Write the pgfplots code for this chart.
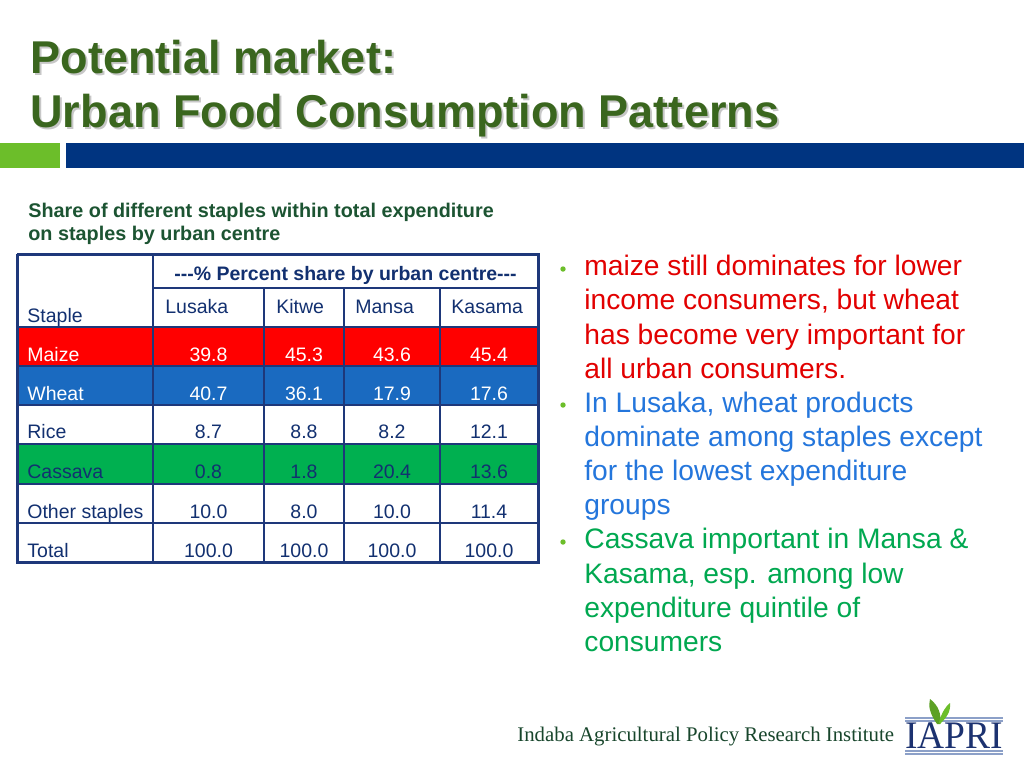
\documentclass[border=0pt]{standalone}
\usepackage{pgfplots}
\pgfplotsset{compat=1.18}
\usepackage{pgfplotstable}
\usepackage{fontspec}
\setmainfont{Liberation Sans}
\newfontfamily\serif{Liberation Serif}

\definecolor{titlegreen}{RGB}{58,102,30}
\definecolor{subgreen}{RGB}{28,84,50}
\definecolor{barblue}{RGB}{0,52,128}
\definecolor{squaregreen}{RGB}{108,190,42}
\definecolor{tabnavy}{RGB}{18,48,112}
\definecolor{tabline}{RGB}{30,56,122}
\definecolor{rowred}{RGB}{255,0,0}
\definecolor{rowblue}{RGB}{26,106,192}
\definecolor{rowgreen}{RGB}{0,176,80}
\definecolor{bred}{RGB}{226,0,0}
\definecolor{bblue}{RGB}{36,118,220}
\definecolor{bgreen}{RGB}{0,168,80}
\definecolor{footgreen}{RGB}{24,70,44}
\definecolor{logonavy}{RGB}{28,50,112}
\definecolor{logoline}{RGB}{140,160,200}

\tikzset{bl/.style={anchor=base west, inner sep=0pt, font=\fontsize{14.1}{17}\selectfont},
         dot/.style={circle, fill=squaregreen, inner sep=0pt, minimum size=2.7pt}}

% table cells: pixel position of text baseline, text
\pgfplotstableread[col sep=comma]{
x,y,label
208.5,361,39.8
304,361,45.3
392,361,43.6
489,361,45.4
208.5,400,40.7
304,400,36.1
392,400,17.9
489,400,17.6
}\whitecells

\pgfplotstableread[col sep=comma]{
x,y,label
208.5,438,8.7
304,438,8.8
392,438,8.2
489,438,12.1
208.5,478,0.8
304,478,1.8
392,478,20.4
489,478,13.6
208.5,518,10.0
304,518,8.0
392,518,10.0
489,518,11.4
208.5,557,100.0
304,557,100.0
392,557,100.0
489,557,100.0
}\navycells

\pgfplotstableread[col sep=comma]{
x,y,label
27,361,Maize
27,400,Wheat
}\whitenames

\pgfplotstableread[col sep=comma]{
x,y,label
27,322,Staple
165,313,Lusaka
276,313,Kitwe
355,313,Mansa
451,313,Kasama
27,438,Rice
27,478,Cassava
27,518,Other staples
27,557,Total
}\navynames

\begin{document}
\begin{tikzpicture}
\begin{axis}[
    x=0.5pt, y=0.5pt,
    xmin=0, xmax=1024, ymin=0, ymax=768,
    y dir=reverse,
    hide axis, clip=false,
    scale only axis,
]
% slide background
\addplot[fill=white, draw=none] coordinates {(0,0) (1024,0) (1024,768) (0,768)};
% header bars
\addplot[fill=squaregreen, draw=none] coordinates {(0,143) (60,143) (60,168) (0,168)};
\addplot[fill=barblue, draw=none] coordinates {(66,143) (1024,143) (1024,168) (66,168)};

% coloured rows
\addplot[fill=rowred, draw=none] coordinates {(17,327) (538,327) (538,366) (17,366)};
\addplot[fill=rowblue, draw=none] coordinates {(17,366) (538,366) (538,405) (17,405)};
\addplot[fill=rowgreen, draw=none] coordinates {(17,444) (538,444) (538,484) (17,484)};

% grid lines
\pgfplotsset{cell/.style={tabline, line width=0.75pt, mark=none}}
\addplot[cell] coordinates {(153,254) (153,562)};
\addplot[cell] coordinates {(264,288) (264,562)};
\addplot[cell] coordinates {(344,288) (344,562)};
\addplot[cell] coordinates {(440,288) (440,562)};
\addplot[cell] coordinates {(153,288) (538,288)};
\addplot[cell] coordinates {(17,327) (538,327)};
\addplot[cell] coordinates {(17,366) (538,366)};
\addplot[cell] coordinates {(17,405) (538,405)};
\addplot[cell] coordinates {(17,444) (538,444)};
\addplot[cell] coordinates {(17,484) (538,484)};
\addplot[cell] coordinates {(17,523) (538,523)};
\addplot[tabline, line width=1.5pt, mark=none] coordinates {(17,254) (538,254) (538,562) (17,562) (17,254)};

% cell text
\pgfplotsset{celltext/.style={draw=none, mark=none, nodes near coords, point meta=explicit symbolic}}
\addplot[celltext, nodes near coords style={anchor=base, inner sep=0pt, text=white, font=\fontsize{9.75}{11}\selectfont}]
    table[x=x, y=y, meta=label] {\whitecells};
\addplot[celltext, nodes near coords style={anchor=base, inner sep=0pt, text=tabnavy, font=\fontsize{9.75}{11}\selectfont}]
    table[x=x, y=y, meta=label] {\navycells};
\addplot[celltext, nodes near coords style={anchor=base west, inner sep=0pt, text=white, font=\fontsize{9.75}{11}\selectfont}]
    table[x=x, y=y, meta=label] {\whitenames};
\addplot[celltext, nodes near coords style={anchor=base west, inner sep=0pt, text=tabnavy, font=\fontsize{9.75}{11}\selectfont}]
    table[x=x, y=y, meta=label] {\navynames};
\node[anchor=base, inner sep=0pt, text=tabnavy, font=\bfseries\fontsize{9.75}{11}\selectfont]
    at (axis cs:345.5,280) {-{}-{}-\% Percent share by urban centre-{}-{}-};

% title
\tikzset{ttl/.style={anchor=base west, inner sep=0pt, xscale=0.98, font=\bfseries\fontsize{23}{27}\selectfont}}
\node[ttl, text=black!22] at (axis cs:32,75) {Potential market:};
\node[ttl, text=titlegreen] at (axis cs:30,73) {Potential market:};
\node[ttl, text=black!22] at (axis cs:32,129) {Urban Food Consumption Patterns};
\node[ttl, text=titlegreen] at (axis cs:30,127) {Urban Food Consumption Patterns};

% table caption
\node[anchor=base west, inner sep=0pt, text=subgreen, font=\bfseries\fontsize{9.9}{11}\selectfont] at (axis cs:28,217) {Share of different staples within total expenditure};
\node[anchor=base west, inner sep=0pt, text=subgreen, font=\bfseries\fontsize{9.9}{11}\selectfont] at (axis cs:28,240) {on staples by urban centre};

% bullets
\node[dot] at (axis cs:563,269) {};
\node[dot] at (axis cs:563,405) {};
\node[dot] at (axis cs:563,542) {};
\node[bl, text=bred] at (axis cs:584,275) {maize still dominates for lower};
\node[bl, text=bred] at (axis cs:584,309) {income consumers, but wheat};
\node[bl, text=bred] at (axis cs:584,344) {has become very important for};
\node[bl, text=bred] at (axis cs:584,378) {all urban consumers.};
\node[bl, text=bblue] at (axis cs:584,412) {In Lusaka, wheat products};
\node[bl, text=bblue] at (axis cs:584,446) {dominate among staples except};
\node[bl, text=bblue] at (axis cs:584,480) {for the lowest expenditure};
\node[bl, text=bblue] at (axis cs:584,514) {groups};
\node[bl, text=bgreen] at (axis cs:584,548) {Cassava important in Mansa \&};
\node[bl, text=bgreen] at (axis cs:584,583) {Kasama, esp. among low};
\node[bl, text=bgreen] at (axis cs:584,617) {expenditure quintile of};
\node[bl, text=bgreen] at (axis cs:584,651) {consumers};

% footer
\node[anchor=base west, inner sep=0pt, text=footgreen, font=\serif\fontsize{10.4}{11}\selectfont] at (axis cs:517,741) {Indaba Agricultural Policy Research Institute};
\addplot[logoline, line width=0.6pt, mark=none] coordinates {(905,718) (1003,718)};
\addplot[logoline, line width=0.6pt, mark=none] coordinates {(905,721) (1003,721)};
\addplot[logoline, line width=0.6pt, mark=none] coordinates {(905,751) (1003,751)};
\addplot[logoline, line width=0.6pt, mark=none] coordinates {(905,754) (1003,754)};
\node[anchor=base west, inner sep=0pt, xscale=0.96, text=logonavy, font=\serif\fontsize{19.5}{20}\selectfont] at (axis cs:905,748) {IAPRI};
\fill[squaregreen!85!black] (axis cs:937,724) .. controls (axis cs:930,714) and (axis cs:928,706) .. (axis cs:930,699)
    .. controls (axis cs:938,705) and (axis cs:942,714) .. (axis cs:940,724) -- cycle;
\fill[squaregreen] (axis cs:939,722) .. controls (axis cs:942,712) and (axis cs:946,706) .. (axis cs:950,703)
    .. controls (axis cs:951,712) and (axis cs:946,718) .. (axis cs:940,724) -- cycle;
\end{axis}
\end{tikzpicture}
\end{document}
